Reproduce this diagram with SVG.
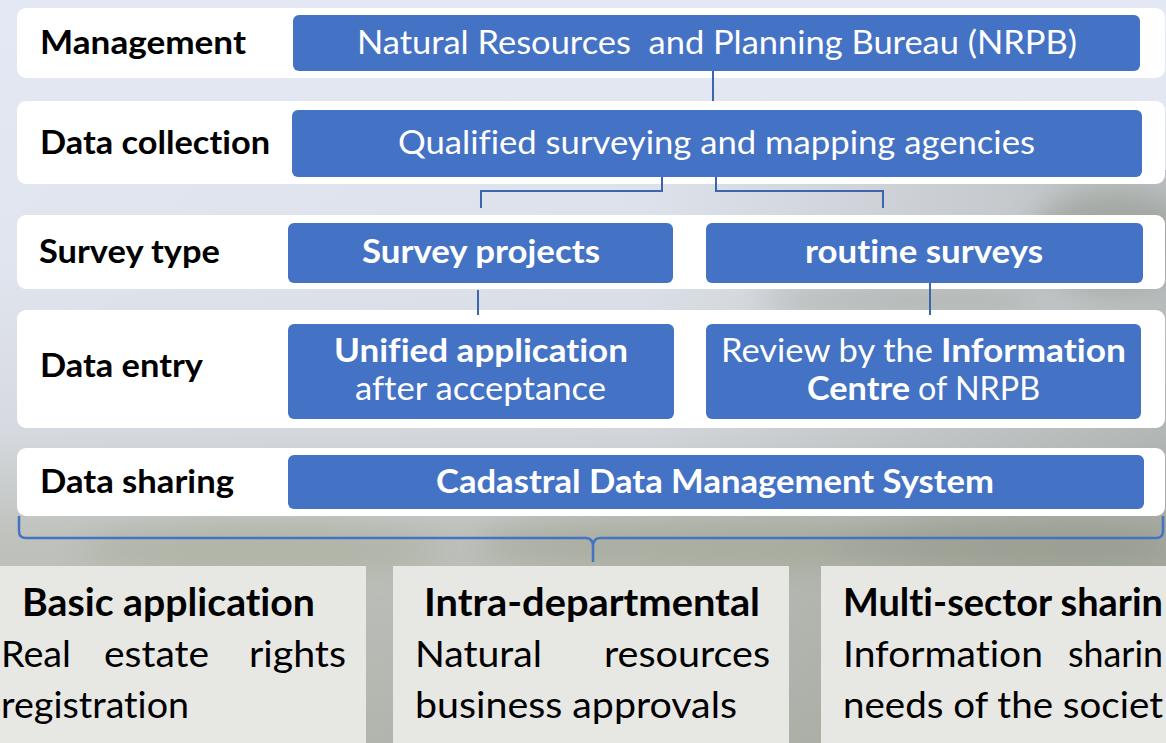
<svg xmlns="http://www.w3.org/2000/svg" width="1166" height="743" viewBox="0 0 1166 743">
<defs>
<linearGradient id="sky" x1="0" y1="0" x2="0" y2="1">
<stop offset="0" stop-color="#e4e8f4"/>
<stop offset="0.35" stop-color="#e1e5ef"/>
<stop offset="0.58" stop-color="#d6d9df"/>
<stop offset="0.72" stop-color="#bfc2bd"/>
<stop offset="1" stop-color="#b3b6ae"/>
</linearGradient>
<linearGradient id="side" x1="0" y1="0" x2="1" y2="0">
<stop offset="0" stop-color="#8a8f82" stop-opacity="0"/>
<stop offset="0.55" stop-color="#8a8f82" stop-opacity="0.05"/>
<stop offset="1" stop-color="#7d8275" stop-opacity="0.4"/>
</linearGradient>
<filter id="blur" x="-20%" y="-20%" width="140%" height="140%"><feGaussianBlur stdDeviation="14"/></filter>
<style>
text{font-variant-ligatures:none;font-feature-settings:"liga" 0,"clig" 0}
.row{fill:#ffffff}
.box{fill:#4472c4}
.lbl{font-family:Lato,"Liberation Sans",sans-serif;font-weight:700;font-size:33px;fill:#000000}
.wt{font-family:Lato,"Liberation Sans",sans-serif;font-size:33px;fill:#ffffff}
.b{font-weight:700}
.bt{font-family:Lato,"Liberation Sans",sans-serif;font-size:37.5px;fill:#000000}
.panel{fill:#e7e7e4}
.con{fill:none;stroke:#3b65ae;stroke-width:2}
.brace{fill:none;stroke:#4472c4;stroke-width:2.5}
</style>
</defs>

<g id="background">
<rect x="0" y="0" width="1166" height="743" fill="url(#sky)"/>
<rect x="0" y="170" width="1166" height="573" fill="url(#side)"/>
<g filter="url(#blur)" opacity="0.55">
<ellipse cx="1110" cy="240" rx="80" ry="50" fill="#8e9388"/>
<ellipse cx="700" cy="545" rx="220" ry="30" fill="#9ea391"/>
<ellipse cx="260" cy="550" rx="180" ry="25" fill="#a7ab98"/>
<ellipse cx="1000" cy="545" rx="170" ry="28" fill="#8f9484"/>
<ellipse cx="900" cy="300" rx="140" ry="18" fill="#a3a7a0"/>
</g>
</g>

<g id="row-management">
<rect class="row" x="17" y="8" width="1148" height="70" rx="9"/>
<text class="lbl" x="40" y="54" textLength="206" lengthAdjust="spacingAndGlyphs">Management</text>
</g>
<g id="node-nrpb">
<rect class="box" x="293" y="15" width="847" height="56" rx="6"/>
<text class="wt" x="717" y="54" text-anchor="middle" xml:space="preserve" textLength="720" lengthAdjust="spacingAndGlyphs">Natural Resources  and Planning Bureau (NRPB)</text>
</g>

<g id="row-collection">
<rect class="row" x="17" y="101" width="1148" height="83" rx="9"/>
<text class="lbl" x="40" y="154" textLength="230" lengthAdjust="spacingAndGlyphs">Data collection</text>
</g>
<g id="node-agencies">
<rect class="box" x="292" y="110" width="850" height="67" rx="6"/>
<text class="wt" x="716.5" y="154" text-anchor="middle" textLength="637" lengthAdjust="spacingAndGlyphs">Qualified surveying and mapping agencies</text>
</g>

<g id="row-survey">
<rect class="row" x="17" y="215" width="1148" height="74" rx="9"/>
<text class="lbl" x="39" y="263" textLength="181" lengthAdjust="spacingAndGlyphs">Survey type</text>
</g>
<g id="node-projects">
<rect class="box" x="288" y="223" width="385" height="60" rx="6"/>
<text class="wt b" x="481" y="263" text-anchor="middle" textLength="238" lengthAdjust="spacingAndGlyphs">Survey projects</text>
</g>
<g id="node-routine">
<rect class="box" x="706" y="223" width="437" height="60" rx="6"/>
<text class="wt b" x="924" y="263" text-anchor="middle" textLength="238" lengthAdjust="spacingAndGlyphs">routine surveys</text>
</g>

<g id="row-entry">
<rect class="row" x="17" y="310" width="1148" height="118" rx="9"/>
<text class="lbl" x="40" y="377" textLength="163" lengthAdjust="spacingAndGlyphs">Data entry</text>
</g>
<g id="node-unified">
<rect class="box" x="288" y="324" width="386" height="95" rx="6"/>
<text class="wt b" x="481" y="362" text-anchor="middle" textLength="294" lengthAdjust="spacingAndGlyphs">Unified application</text>
<text class="wt" x="480.5" y="400" text-anchor="middle" textLength="251" lengthAdjust="spacingAndGlyphs">after acceptance</text>
</g>
<g id="node-review">
<rect class="box" x="706" y="324" width="435" height="95" rx="6"/>
<text class="wt" x="721" y="362" textLength="212" lengthAdjust="spacingAndGlyphs">Review by the</text>
<text class="wt b" x="941" y="362" textLength="185" lengthAdjust="spacingAndGlyphs">Information</text>
<text class="wt b" x="807" y="400" textLength="103" lengthAdjust="spacingAndGlyphs">Centre</text>
<text class="wt" x="918" y="400" textLength="122" lengthAdjust="spacingAndGlyphs">of NRPB</text>
</g>

<g id="row-sharing">
<rect class="row" x="17" y="448" width="1148" height="68" rx="9"/>
<text class="lbl" x="40" y="493" textLength="194" lengthAdjust="spacingAndGlyphs">Data sharing</text>
</g>
<g id="node-cadastral">
<rect class="box" x="288" y="455" width="856" height="54" rx="6"/>
<text class="wt b" x="715" y="493" text-anchor="middle" textLength="558" lengthAdjust="spacingAndGlyphs">Cadastral Data Management System</text>
</g>

<g id="connectors">
<path class="con" d="M713,71 V101"/>
<path class="con" d="M662,177 V191 H481 V208"/>
<path class="con" d="M716,177 V191 H883 V208"/>
<path class="con" d="M478,290 V315"/>
<path class="con" d="M930,283 V315"/>
<path class="brace" d="M19,516 V531 Q19,538 26,538 H586 Q593,538 593,547 V562 M593,547 Q593,538 600,538 H1156 Q1163,538 1163,531 V516"/>
</g>

<g id="box-basic">
<rect class="panel" x="0" y="566" width="366" height="177"/>
<text class="bt b" x="22" y="616" textLength="293" lengthAdjust="spacingAndGlyphs">Basic application</text>
<text class="bt" x="1" y="667" textLength="70" lengthAdjust="spacingAndGlyphs">Real</text>
<text class="bt" x="104" y="667" textLength="105" lengthAdjust="spacingAndGlyphs">estate</text>
<text class="bt" x="249" y="667" textLength="97" lengthAdjust="spacingAndGlyphs">rights</text>
<text class="bt" x="1" y="718" textLength="188" lengthAdjust="spacingAndGlyphs">registration</text>
</g>

<g id="box-intra">
<rect class="panel" x="393" y="566" width="396" height="177"/>
<text class="bt b" x="424" y="616" textLength="336" lengthAdjust="spacingAndGlyphs">Intra-departmental</text>
<text class="bt" x="415" y="667" textLength="127" lengthAdjust="spacingAndGlyphs">Natural</text>
<text class="bt" x="604" y="667" textLength="166" lengthAdjust="spacingAndGlyphs">resources</text>
<text class="bt" x="415" y="718" textLength="322" lengthAdjust="spacingAndGlyphs">business approvals</text>
</g>

<g id="box-multi">
<rect class="panel" x="821" y="566" width="345" height="177"/>
<text class="bt b" x="843" y="616" textLength="320" lengthAdjust="spacingAndGlyphs">Multi-sector sharin</text>
<text class="bt" x="843" y="667" textLength="200" lengthAdjust="spacingAndGlyphs">Information</text>
<text class="bt" x="1068" y="667" textLength="95" lengthAdjust="spacingAndGlyphs">sharin</text>
<text class="bt" x="843" y="718" textLength="320" lengthAdjust="spacingAndGlyphs">needs of the societ</text>
</g>
</svg>
